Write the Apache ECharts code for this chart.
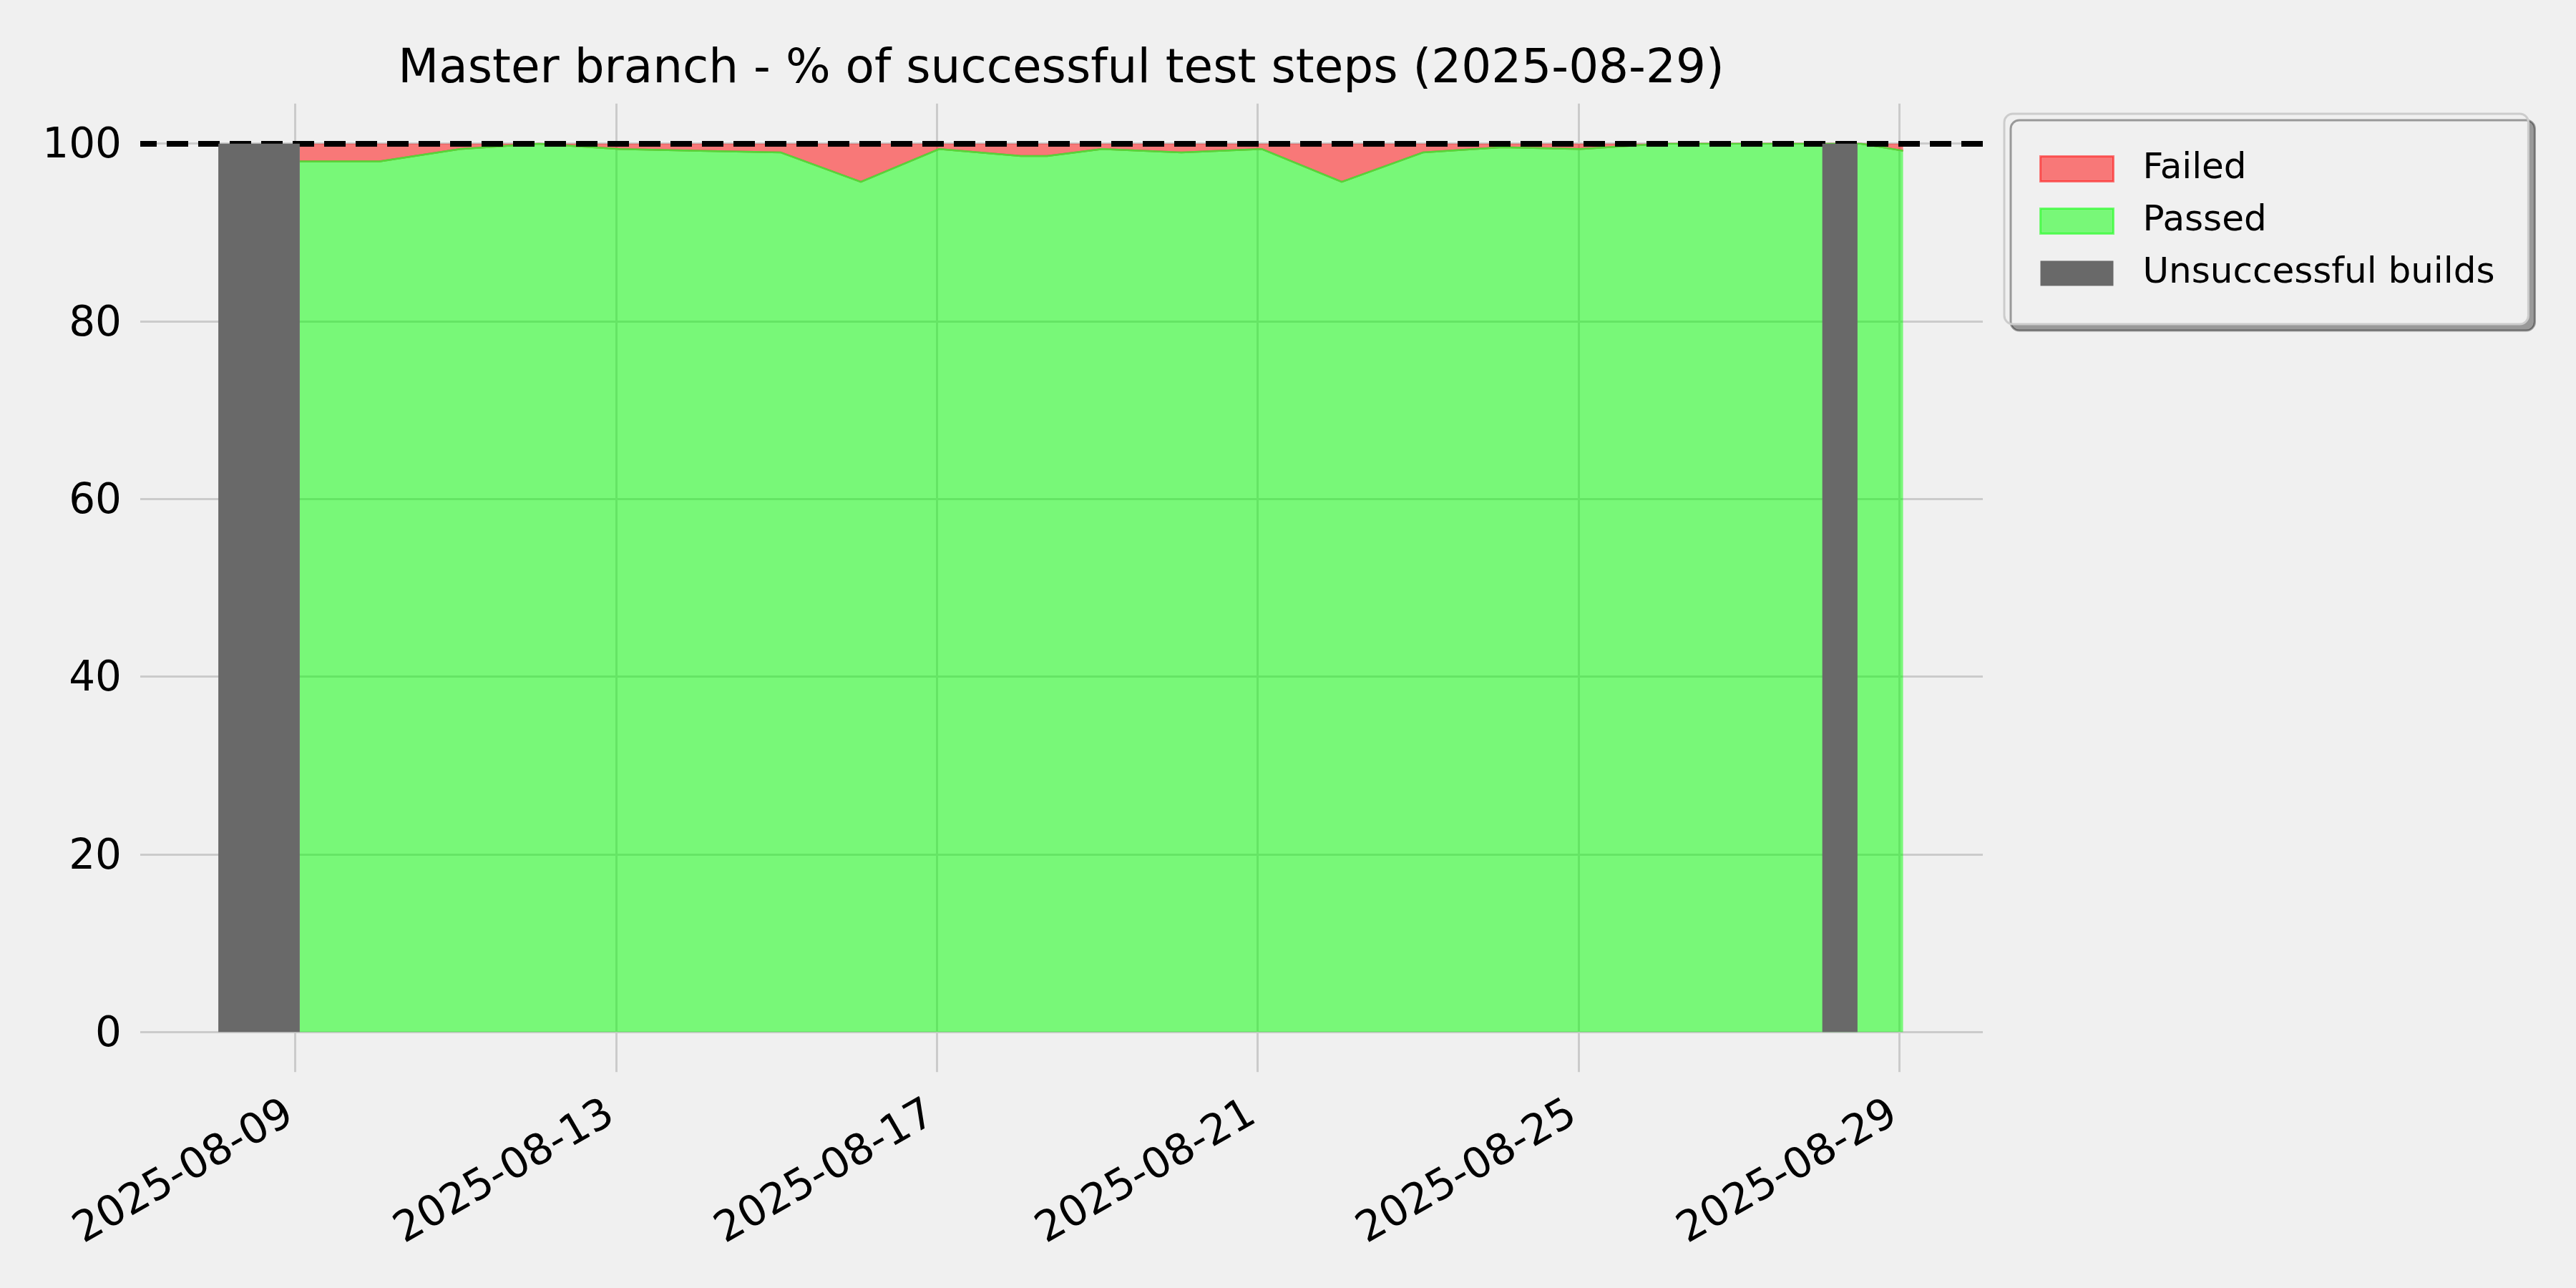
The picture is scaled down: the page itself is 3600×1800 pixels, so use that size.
<!DOCTYPE html>
<html>
<head>
<meta charset="utf-8">
<script src="https://cdn.jsdelivr.net/npm/echarts@6/dist/echarts.min.js"></script>
<style>
  html, body { margin: 0; padding: 0; background: #f0f0f0; }
  #chart { width: 3600px; height: 1800px; }
</style>
</head>
<body>
<div id="chart"></div>
<script>
// ---------------- data ----------------
const chartTitle = 'Master branch - % of successful test steps (2025-08-29)';

const buildTimes = [
  '2025-08-09T01:20', '2025-08-10T01:15', '2025-08-11T01:20', '2025-08-12T00:50',
  '2025-08-13T01:00', '2025-08-14T01:10', '2025-08-15T01:20', '2025-08-16T01:15',
  '2025-08-17T00:45', '2025-08-18T01:10', '2025-08-18T09:00', '2025-08-19T01:25',
  '2025-08-20T01:10', '2025-08-21T01:10', '2025-08-22T01:10', '2025-08-23T01:25',
  '2025-08-24T01:10', '2025-08-25T00:30', '2025-08-26T01:10', '2025-08-27T01:10',
  '2025-08-28T12:30', '2025-08-29T01:08'
];
const passedPct = [
  98.0, 98.0, 99.4, 100.0,
  99.4, 99.2, 99.0, 95.7,
  99.4, 98.6, 98.6, 99.4,
  99.0, 99.4, 95.7, 99.0,
  99.6, 99.4, 100.0, 100.0,
  100.0, 99.2
];
const failedPct = [
  2.0, 2.0, 0.6, 0.0,
  0.6, 0.8, 1.0, 4.3,
  0.6, 1.4, 1.4, 0.6,
  1.0, 0.6, 4.3, 1.0,
  0.4, 0.6, 0.0, 0.0,
  0.0, 0.8
];
const unsuccessfulStart = ['2025-08-08T00:58', '2025-08-28T00:58'];
const unsuccessfulEnd   = ['2025-08-09T01:20', '2025-08-28T11:30'];

const tickDates = ['2025-08-09', '2025-08-13', '2025-08-17', '2025-08-21', '2025-08-25', '2025-08-29'];
const xRange = ['2025-08-07T01:36', '2025-08-30T01:00'];
const targetLine = 100;

// ---------------- helpers ----------------
const ts = s => new Date(s.length === 10 ? s + 'T00:00' : s).getTime();
const pad2 = n => (n < 10 ? '0' : '') + n;
const fmtDate = v => { const d = new Date(v); return d.getFullYear() + '-' + pad2(d.getMonth() + 1) + '-' + pad2(d.getDate()); };

const passedData = buildTimes.map((t, i) => [ts(t), passedPct[i]]);
const failedData = buildTimes.map((t, i) => [ts(t), failedPct[i]]);
const unsuccessfulData = unsuccessfulStart.map((s, i) => [ts(s), ts(unsuccessfulEnd[i])]);
const tickValues = tickDates.map(ts);

const FONT = 'DejaVu Sans';
const GRID = '#cbcbcb';

const chart = echarts.init(document.getElementById('chart'), null, { renderer: 'canvas' });

chart.setOption({
  backgroundColor: '#f0f0f0',
  animation: false,
  title: {
    text: chartTitle,
    left: 1483,
    top: 65,
    textAlign: 'center',
    padding: 0,
    textStyle: { fontFamily: FONT, fontSize: 66, fontWeight: 'normal', color: '#000' }
  },
  grid: { left: 196, right: 829, top: 200.7, bottom: 357.7, containLabel: false },
  legend: {
    orient: 'vertical',
    left: 2801,
    top: 159,
    itemWidth: 102,
    itemHeight: 35,
    itemGap: 23,
    padding: [52, 47, 46, 49],
    backgroundColor: '#f0f0f0',
    borderColor: '#cccccc',
    borderWidth: 3,
    borderRadius: 12,
    shadowColor: 'rgba(0,0,0,0.36)',
    shadowBlur: 0,
    shadowOffsetX: 9,
    shadowOffsetY: 9,
    selectedMode: false,
    textStyle: { fontFamily: FONT, fontSize: 50, color: '#000', padding: [0, 0, 0, 36] },
    data: [
      { name: 'Failed', icon: 'rect', itemStyle: { color: 'rgba(255,0,0,0.5)', borderColor: 'rgba(255,0,0,0.5)', borderWidth: 3 } },
      { name: 'Passed', icon: 'rect', itemStyle: { color: 'rgba(0,255,0,0.5)', borderColor: 'rgba(0,255,0,0.5)', borderWidth: 3 } },
      { name: 'Unsuccessful builds', icon: 'rect', itemStyle: { color: '#696969', borderWidth: 0 } }
    ]
  },
  xAxis: [
    {
      type: 'value',
      position: 'bottom',
      min: ts(xRange[0]),
      max: ts(xRange[1]),
      axisLine: { show: false, onZero: false },
      axisTick: { show: true, length: 56, lineStyle: { color: GRID, width: 3 }, customValues: tickValues },
      axisLabel: {
        show: true, rotate: 30, margin: 107, fontSize: 59, fontFamily: FONT, color: '#000',
        padding: [0, 8, 0, 0],
        customValues: tickValues, formatter: v => fmtDate(v), hideOverlap: false
      },
      splitLine: { show: true, lineStyle: { color: GRID, width: 3 } }
    },
    {
      type: 'value',
      position: 'top',
      min: ts(xRange[0]),
      max: ts(xRange[1]),
      axisLine: { show: false, onZero: false },
      axisTick: { show: true, length: 56, lineStyle: { color: GRID, width: 3 }, customValues: tickValues },
      axisLabel: { show: false },
      splitLine: { show: false }
    }
  ],
  yAxis: [
    {
      type: 'value',
      min: 0,
      max: 100,
      interval: 20,
      axisLine: { show: false },
      axisTick: { show: false },
      axisLabel: {
        margin: 26, fontSize: 58, fontFamily: FONT, color: '#000',
        formatter: '{v|{value}}',
        rich: { v: { fontSize: 58, fontFamily: FONT, color: '#000', padding: [9, 0, 0, 0] } }
      },
      splitLine: { show: true, lineStyle: { color: GRID, width: 3 } }
    },
    {
      // failed share measured downward from the 100 % line
      type: 'value',
      min: 0,
      max: 100,
      inverse: true,
      position: 'left',
      show: false,
      splitLine: { show: false }
    }
  ],
  series: [
    {
      name: 'Failed',
      type: 'line',
      yAxisIndex: 1,
      z: 2,
      data: failedData,
      showSymbol: false,
      symbol: 'none',
      lineStyle: { color: '#f04848', width: 2.5 },
      itemStyle: { color: 'rgba(255,0,0,0.5)' },
      areaStyle: { color: 'rgba(255,0,0,0.5)', opacity: 1, origin: 'start' }
    },
    {
      name: 'Passed',
      type: 'line',
      yAxisIndex: 0,
      z: 3,
      data: passedData,
      showSymbol: false,
      symbol: 'none',
      lineStyle: { color: '#55d63a', width: 2.5 },
      itemStyle: { color: 'rgba(0,255,0,0.5)' },
      areaStyle: { color: 'rgba(0,255,0,0.5)', opacity: 1 }
    },
    {
      name: 'Unsuccessful builds',
      type: 'custom',
      z: 5,
      data: unsuccessfulData,
      itemStyle: { color: '#696969' },
      encode: { x: [0, 1] },
      renderItem: function (params, api) {
        const p0 = api.coord([api.value(0), 0]);
        const p1 = api.coord([api.value(1), targetLine]);
        return {
          type: 'rect',
          shape: { x: p0[0], y: p1[1], width: p1[0] - p0[0], height: p0[1] - p1[1] },
          style: { fill: '#696969' }
        };
      }
    },
    {
      name: 'target',
      type: 'line',
      z: 10,
      data: [],
      markLine: {
        silent: true,
        symbol: 'none',
        label: { show: false },
        lineStyle: { color: '#000', width: 8, type: [30, 14], dashOffset: 7 },
        data: [{ yAxis: targetLine }]
      }
    }
  ]
});
</script>
</body>
</html>
